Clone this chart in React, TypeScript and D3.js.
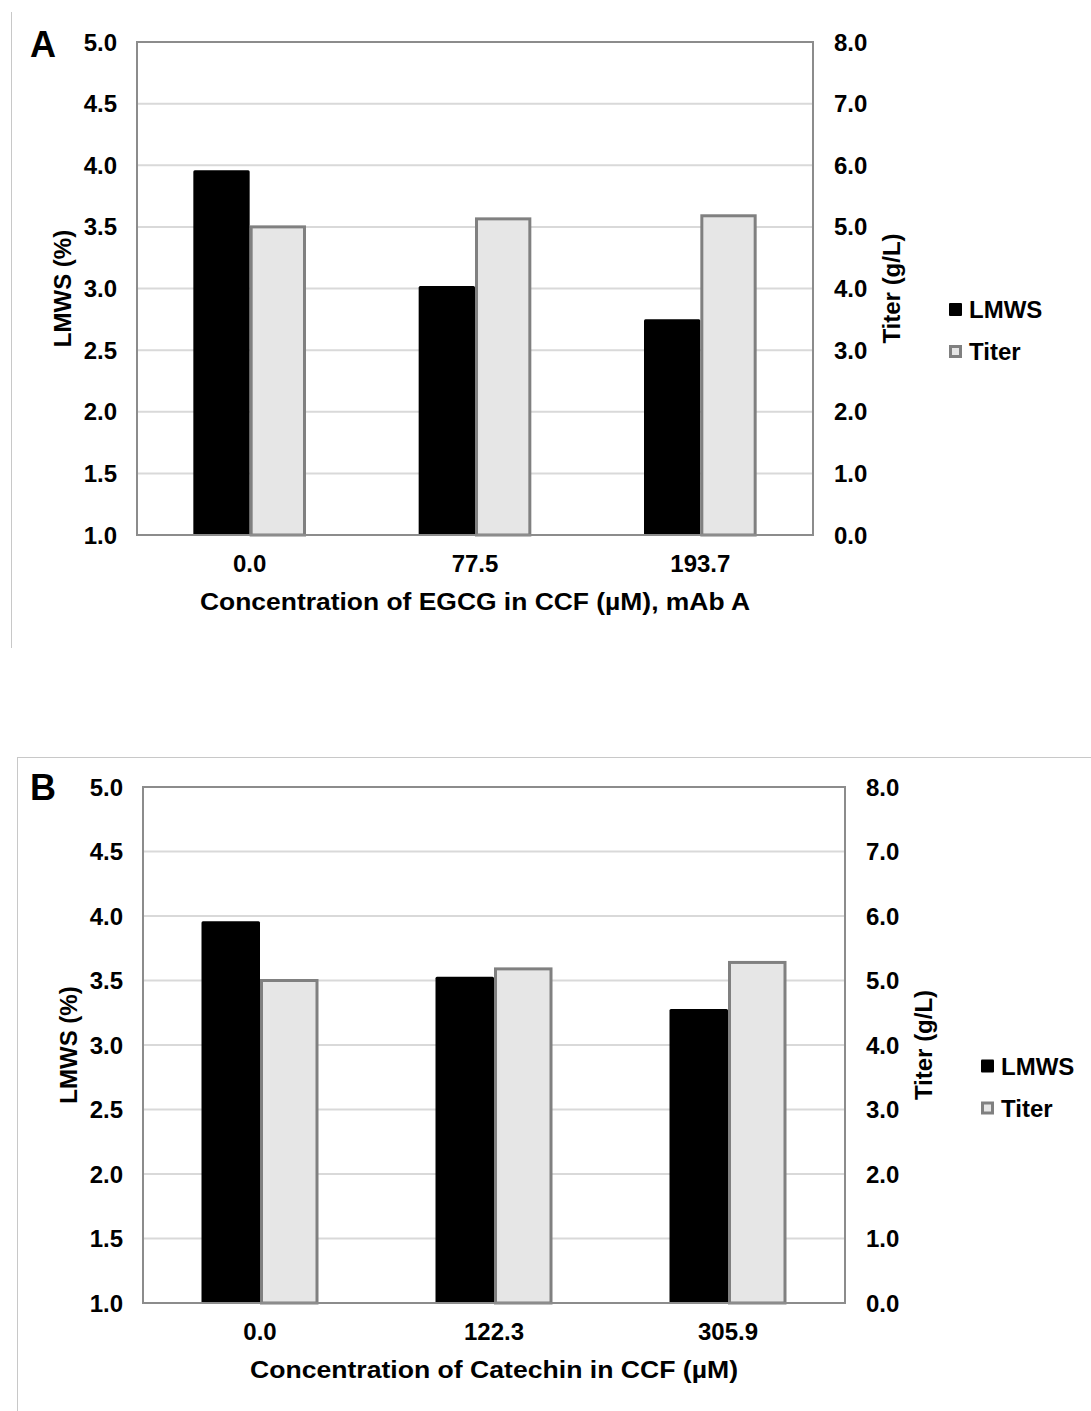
import React from "react";
import * as d3 from "d3";

const seriesNames = ["LMWS", "Titer"];

const categoriesA = ["0.0", "77.5", "193.7"];
const lmwsA = [3.96, 3.02, 2.75];
const titerA = [5.0, 5.13, 5.18];
const xTitleA = "Concentration of EGCG in CCF (µM), mAb A";

const categoriesB = ["0.0", "122.3", "305.9"];
const lmwsB = [3.96, 3.53, 3.28];
const titerB = [5.0, 5.18, 5.28];
const xTitleB = "Concentration of Catechin in CCF (µM)";

const leftTicks = [1.0, 1.5, 2.0, 2.5, 3.0, 3.5, 4.0, 4.5, 5.0];
const rightTicks = [0, 1, 2, 3, 4, 5, 6, 7, 8];
const leftLabel = "LMWS (%)";
const rightLabel = "Titer (g/L)";

const FONT = "'Liberation Sans', Arial, Helvetica, sans-serif";
const GRID = "#d9d9d9";
const FRAME = "#8c8c8c";
const TITER_FILL = "#e6e6e6";
const TITER_STROKE = "#808080";

type PanelProps = {
  letter: string;
  categories: string[];
  lmws: number[];
  titer: number[];
  xTitle: string;
  xTitleLen: number;
  left: number;
  right: number;
  top: number;
  bottom: number;
  letterX: number;
  letterY: number;
};

function Panel(p: PanelProps) {
  const x = d3.scaleBand<string>().domain(p.categories).range([p.left, p.right]).paddingInner(0).paddingOuter(0);
  const sub = d3.scaleBand<string>().domain(seriesNames).range([0, x.bandwidth()]).paddingInner(0).paddingOuter(1);
  const yL = d3.scaleLinear().domain([1, 5]).range([p.bottom, p.top]);
  const yR = d3.scaleLinear().domain([0, 8]).range([p.bottom, p.top]);
  const midY = (p.top + p.bottom) / 2;
  const fs = 24;
  return (
    <g fontFamily={FONT} fontWeight="bold" fill="#000">
      {leftTicks.map((t) => (
        <line key={"g" + t} x1={p.left} x2={p.right} y1={yL(t)} y2={yL(t)} stroke={GRID} strokeWidth={2} />
      ))}
      {p.categories.map((c, i) => {
        const x0 = x(c)!;
        const bw = sub.bandwidth();
        const xl = x0 + sub("LMWS")!;
        const xt = x0 + sub("Titer")!;
        return (
          <g key={"b" + c}>
            <rect x={xl} y={yL(p.lmws[i])} width={bw} height={p.bottom - yL(p.lmws[i])} fill="#000" rx={1.5} />
            <rect x={xt + 1.5} y={yR(p.titer[i])} width={bw - 3} height={p.bottom - yR(p.titer[i])} fill={TITER_FILL} stroke={TITER_STROKE} strokeWidth={3} />
          </g>
        );
      })}
      <rect x={p.left} y={p.top} width={p.right - p.left} height={p.bottom - p.top} fill="none" stroke={FRAME} strokeWidth={2} />
      {leftTicks.map((t) => (
        <text key={"l" + t} x={p.left - 20} y={yL(t)} textAnchor="end" dominantBaseline="central" fontSize={fs}>
          {d3.format(".1f")(t)}
        </text>
      ))}
      {rightTicks.map((t) => (
        <text key={"r" + t} x={p.right + 21} y={yR(t)} textAnchor="start" dominantBaseline="central" fontSize={fs}>
          {d3.format(".1f")(t)}
        </text>
      ))}
      {p.categories.map((c) => (
        <text key={"x" + c} x={x(c)! + x.bandwidth() / 2} y={p.bottom + 28} textAnchor="middle" dominantBaseline="central" fontSize={fs}>
          {c}
        </text>
      ))}
      <text
        x={(p.left + p.right) / 2 - p.xTitleLen / 2}
        y={p.bottom + 66}
        dominantBaseline="central"
        fontSize={fs}
        textLength={p.xTitleLen}
        lengthAdjust="spacingAndGlyphs"
      >
        {p.xTitle}
      </text>
      <text transform={`translate(${p.left - 75},${midY}) rotate(-90)`} textAnchor="middle" dominantBaseline="central" fontSize={fs}>
        {leftLabel}
      </text>
      <text transform={`translate(${p.right + 78},${midY}) rotate(-90)`} textAnchor="middle" dominantBaseline="central" fontSize={fs}>
        {rightLabel}
      </text>
      <rect x={p.right + 136} y={midY + 21 - 6.5} width={13} height={13} fill="#000" rx={1} />
      <text x={p.right + 156} y={midY + 21} dominantBaseline="central" fontSize={fs}>
        {seriesNames[0]}
      </text>
      <rect x={p.right + 137.5} y={midY + 63 - 5} width={10} height={10} fill={TITER_FILL} stroke={TITER_STROKE} strokeWidth={3} />
      <text x={p.right + 156} y={midY + 63} dominantBaseline="central" fontSize={fs}>
        {seriesNames[1]}
      </text>
      <text x={p.letterX} y={p.letterY} fontSize={36}>
        {p.letter}
      </text>
    </g>
  );
}

export default function App() {
  return (
    <div style={{ position: "absolute", left: 0, top: 0 }}>
      <svg width={1091} height={1411} style={{ display: "block", background: "#fff" }}>
        <line x1={11.5} x2={11.5} y1={12} y2={648} stroke="#c8c8c8" strokeWidth={1} />
        <line x1={17} x2={1091} y1={757.5} y2={757.5} stroke="#c8c8c8" strokeWidth={1} />
        <line x1={17.5} x2={17.5} y1={757} y2={1411} stroke="#c8c8c8" strokeWidth={1} />
        <Panel
          letter="A"
          categories={categoriesA}
          lmws={lmwsA}
          titer={titerA}
          xTitle={xTitleA}
          xTitleLen={550}
          left={137}
          right={813}
          top={42}
          bottom={535}
          letterX={30}
          letterY={57}
        />
        <Panel
          letter="B"
          categories={categoriesB}
          lmws={lmwsB}
          titer={titerB}
          xTitle={xTitleB}
          xTitleLen={488}
          left={143}
          right={845}
          top={787}
          bottom={1303}
          letterX={30}
          letterY={800}
        />
      </svg>
    </div>
  );
}
